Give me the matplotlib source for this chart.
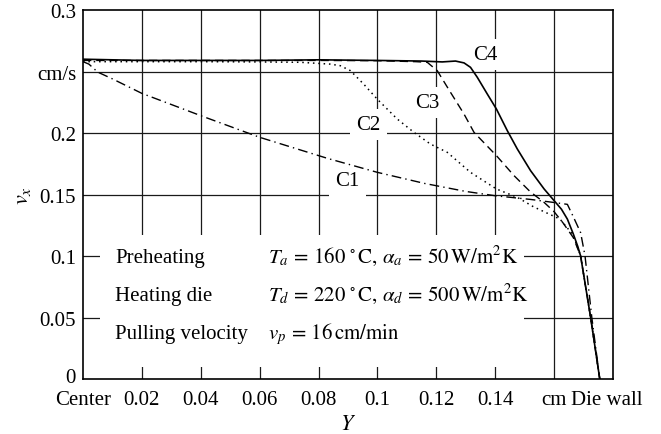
"""plot.py — axial velocity v_x across the profile (center -> die wall), curves C1..C4."""
import matplotlib
matplotlib.use("Agg")
import matplotlib.pyplot as plt
from matplotlib.patches import Rectangle
from matplotlib.transforms import ScaledTranslation

plt.rcParams["font.family"] = ["Liberation Serif", "DejaVu Serif"]
plt.rcParams["mathtext.fontset"] = "stix"

# ---- data ----
c1_y = [0, 0.002, 0.005, 0.01, 0.02, 0.04, 0.06, 0.083, 0.10, 0.116, 0.13, 0.14,
        0.152, 0.160, 0.1645, 0.1665, 0.169, 0.1705, 0.1728, 0.1755]
c1_v = [0.258, 0.256, 0.2495, 0.244, 0.2322, 0.2141, 0.1965, 0.1794, 0.168, 0.159,
        0.1525, 0.149, 0.146, 0.1435, 0.142, 0.132, 0.119, 0.100, 0.050, 0.0]

c2_y = [0, 0.02, 0.04, 0.06, 0.0738, 0.084, 0.0874, 0.0908, 0.0953, 0.0999, 0.1067,
        0.1124, 0.118, 0.1237, 0.1316, 0.1404, 0.1475, 0.153, 0.162, 0.1665, 0.169,
        0.1724, 0.1755]
c2_v = [0.258, 0.258, 0.258, 0.2578, 0.2575, 0.256, 0.2547, 0.2507, 0.2398, 0.2276,
        0.2114, 0.2005, 0.191, 0.1843, 0.168, 0.1545, 0.1477, 0.140, 0.130, 0.117,
        0.100, 0.050, 0.0]

c3_y = [0, 0.02, 0.04, 0.06, 0.08, 0.10, 0.113, 0.1169, 0.1203, 0.1248, 0.1294,
        0.1328, 0.1404, 0.1464, 0.152, 0.1566, 0.160, 0.163, 0.1665, 0.169, 0.1724,
        0.1755]
c3_v = [0.259, 0.259, 0.259, 0.259, 0.259, 0.2588, 0.258, 0.2575, 0.2507, 0.2331,
        0.2154, 0.2005, 0.1816, 0.1653, 0.152, 0.1436, 0.136, 0.127, 0.115, 0.100,
        0.050, 0.0]

c4_y = [0, 0.02, 0.04, 0.06, 0.08, 0.10, 0.115, 0.122, 0.1265, 0.1294, 0.1316,
        0.1339, 0.1373, 0.1404, 0.1441, 0.1475, 0.152, 0.1566, 0.160, 0.1625,
        0.1645, 0.1665, 0.168, 0.169, 0.1724, 0.1755]
c4_v = [0.260, 0.259, 0.259, 0.259, 0.2595, 0.259, 0.2585, 0.2578, 0.2585, 0.257,
        0.2534, 0.2453, 0.2317, 0.2195, 0.2019, 0.187, 0.1694, 0.1545, 0.145, 0.138,
        0.130, 0.118, 0.108, 0.100, 0.050, 0.0]

grid_x = [0.02, 0.04, 0.06, 0.08, 0.10, 0.12, 0.14, 0.16]
grid_y = [0.05, 0.10, 0.15, 0.20, 0.25]
x_ticks = [0, 0.02, 0.04, 0.06, 0.08, 0.10, 0.12, 0.14, 0.16, 0.178]
x_labels = ["Center", "0.02", "0.04", "0.06", "0.08", "0.1", "0.12", "0.14", "cm",
            "Die wall"]
y_ticks = [0, 0.05, 0.10, 0.15, 0.20, 0.25, 0.30]
y_labels = ["0", "0.05", "0.1", "0.15", "0.2", "cm/s", "0.3"]

info_left = ["Preheating", "Heating die", "Pulling velocity"]
info_right = [r"$T_a\,=\,160\,^\circ\mathrm{C},\,\alpha_a\,=\,50\,\mathrm{W/m^2K}$",
              r"$T_d\,=\,220\,^\circ\mathrm{C},\,\alpha_d\,=\,500\,\mathrm{W/m^2K}$",
              r"$v_p\,=\,16\,\mathrm{cm/min}$"]

FS = 15

fig = plt.figure(figsize=(6.61, 4.35), dpi=100)
ax = fig.add_axes([0.1256, 0.1264, 0.8018, 0.8483])

# grid drawn as plain lines so text boxes can cut through them
for x in grid_x:
    ax.axvline(x, color="0.1", lw=0.9, zorder=1)
for y in grid_y:
    ax.axhline(y, color="0.1", lw=0.9, zorder=1)

ax.plot(c1_y, c1_v, color="k", lw=1.0, dashes=(7, 3, 1, 3), zorder=4)
ax.plot(c2_y, c2_v, color="k", lw=1.1, dashes=(1, 2.5), zorder=4)
ax.plot(c3_y, c3_v, color="k", lw=1.0, dashes=(6, 3.5), zorder=4)
ax.plot(c4_y, c4_v, color="k", lw=1.2, zorder=4)

box = dict(boxstyle="square,pad=0.3", fc="white", ec="none")
ax.text(0.1367, 0.264, "C4", fontsize=FS, ha="center", va="center", bbox=box, zorder=3)
ax.text(0.1169, 0.225, "C3", fontsize=FS, ha="center", va="center", bbox=box, zorder=3)
ax.text(0.0970, 0.207, "C2", fontsize=FS, ha="center", va="center", bbox=box, zorder=3)
ax.text(0.0897, 0.161, "C1", fontsize=FS, ha="center", va="center", bbox=box, zorder=3)

# white panel behind the parameter text
ax.add_patch(Rectangle((0.0058, 0.0098), 0.1439, 0.1072, fc="white", ec="none", zorder=2))
for i, (a, b) in enumerate(zip(info_left, info_right)):
    yb = 0.0954 - i * 0.0312
    ax.text(0.0109, yb, a, fontsize=FS, va="baseline", zorder=3)
    ax.text(0.0629, yb, b, fontsize=FS, va="baseline", zorder=3)

ax.set_xlim(0, 0.18)
ax.set_ylim(0, 0.3)
ax.set_xticks(x_ticks)
ax.set_xticklabels(x_labels)
ax.set_yticks(y_ticks)
ax.set_yticklabels(y_labels)
ax.tick_params(length=0, labelsize=FS)
ax.tick_params(axis="x", pad=8)
ax.tick_params(axis="y", pad=5)

# lift the "0" a touch so it sits clear of "Center", as in the original
zero = ax.get_yticklabels()[0]
zero.set_transform(zero.get_transform() + ScaledTranslation(0, 3 / 72, fig.dpi_scale_trans))

for s in ax.spines.values():
    s.set_linewidth(1.2)
    s.set_zorder(5)

ax.set_ylabel(r"$v_x$", fontsize=FS + 1, rotation=90, labelpad=3)
ax.set_xlabel(r"$Y$", fontsize=FS + 1, labelpad=4)

fig.savefig("out.png", dpi=100)
